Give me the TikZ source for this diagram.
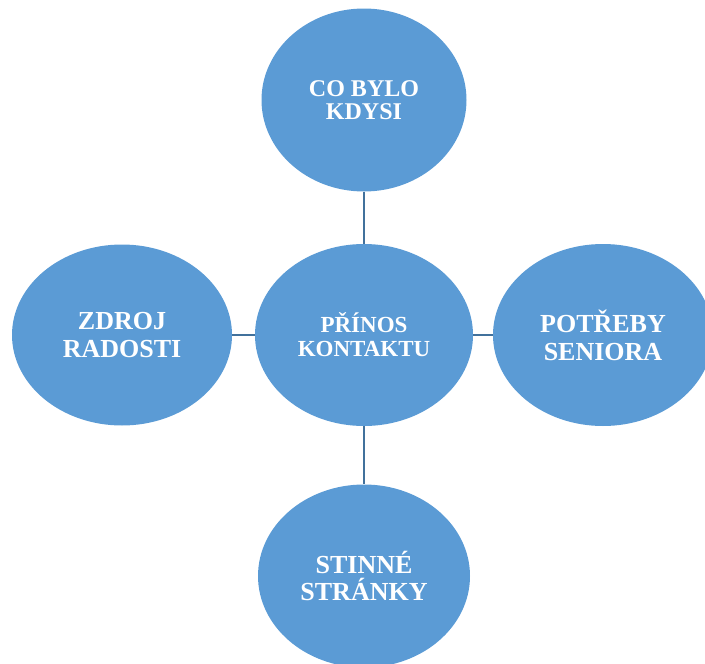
\documentclass[tikz,border=0pt]{standalone}
\usepackage{fontspec}
\setmainfont{Liberation Serif}
\usetikzlibrary{shapes.geometric}
\definecolor{bubble}{HTML}{5B9BD5}
\definecolor{link}{HTML}{41719C}
\tikzset{
  bubble/.style={ellipse, fill=bubble, draw=none, inner sep=0pt, text=white, align=center, font=\bfseries},
  linkline/.style={draw=link, line width=2.2pt}
}
\begin{document}
\begin{tikzpicture}[x=1pt, y=-1pt]
\useasboundingbox (0,0) rectangle (705,664);
\node[bubble, minimum width=205pt, minimum height=183pt, font=\bfseries\fontsize{24}{23}\selectfont] (top) at (364,100) {CO BYLO\\KDYSI};
\node[bubble, minimum width=218pt, minimum height=182pt, font=\bfseries\fontsize{23}{24}\selectfont] (mid) at (364,335) {PŘÍNOS\\KONTAKTU};
\node[bubble, minimum width=220pt, minimum height=181pt, font=\bfseries\fontsize{26}{28}\selectfont] (left) at (122,335) {ZDROJ\\RADOSTI};
\node[bubble, minimum width=220pt, minimum height=182pt, font=\bfseries\fontsize{26}{28}\selectfont] (right) at (603,335) {POTŘEBY\\SENIORA};
\node[bubble, minimum width=212pt, minimum height=183pt, font=\bfseries\fontsize{26}{27}\selectfont] (bot) at (364,576) {STINNÉ\\STRÁNKY};
\draw[linkline] (top.south) -- (mid.north);
\draw[linkline] (left.east) -- (mid.west);
\draw[linkline] (mid.east) -- (right.west);
\draw[linkline] (mid.south) -- (bot.north);
\end{tikzpicture}
\end{document}
